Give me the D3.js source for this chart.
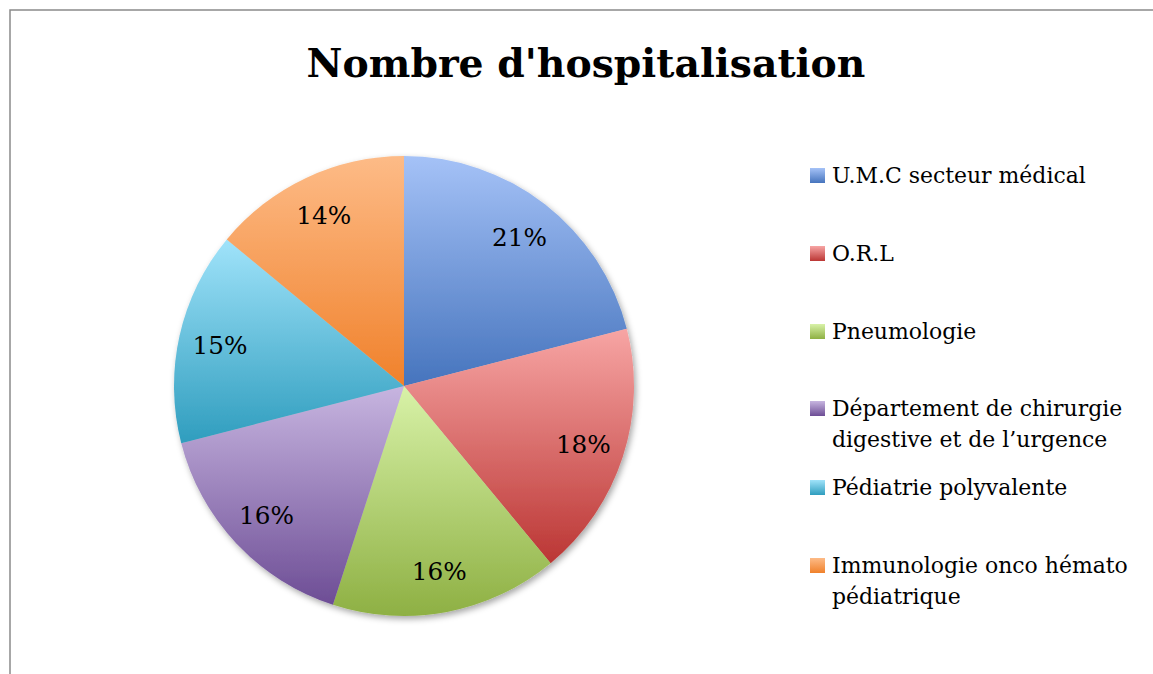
<!DOCTYPE html>
<html>
<head>
<meta charset="utf-8">
<script src="https://cdn.jsdelivr.net/npm/d3@7"></script>
<style>
  body { margin: 0; background: #fff; }
  text { font-family: "DejaVu Serif", "Liberation Serif", serif; fill: #000; }
</style>
</head>
<body>
<div id="chart"></div>
<script>
var svgWidth = 1153;
var svgHeight = 674;

// data
var categories = [
  "U.M.C secteur médical",
  "O.R.L",
  "Pneumologie",
  "Département de chirurgie digestive et de l’urgence",
  "Pédiatrie polyvalente",
  "Immunologie onco hémato pédiatrique"
];
var values = [21, 18, 16, 16, 15, 14];
// legend lines (wrapped as in the original)
var legendLines = [
  ["U.M.C secteur médical"],
  ["O.R.L"],
  ["Pneumologie"],
  ["Département de chirurgie", "digestive et de l’urgence"],
  ["Pédiatrie polyvalente"],
  ["Immunologie onco hémato", "pédiatrique"]
];
var lightColors = ["#a5c2f7", "#f7a5a4", "#d8f2a8", "#c7b5e0", "#a0e3fa", "#fdbb87"];
var darkColors  = ["#4674bd", "#bb3634", "#8eb043", "#6d4d95", "#2f9dbe", "#f0812b"];

var svg = d3.select("#chart")
  .append("svg")
  .attr("width", svgWidth)
  .attr("height", svgHeight);

var defs = svg.append("defs");

// one vertical gradient per slice
categories.forEach(function(c, i) {
  var g = defs.append("linearGradient")
    .attr("id", "grad" + i)
    .attr("x1", 0).attr("y1", 0)
    .attr("x2", 0).attr("y2", 1);
  g.append("stop").attr("offset", "0%").attr("stop-color", lightColors[i]);
  g.append("stop").attr("offset", "100%").attr("stop-color", darkColors[i]);
});

var shadow = defs.append("filter")
  .attr("id", "shadow")
  .attr("x", "-10%").attr("y", "-10%")
  .attr("width", "125%").attr("height", "125%");
shadow.append("feDropShadow")
  .attr("dx", 2).attr("dy", 3)
  .attr("stdDeviation", 3)
  .attr("flood-color", "#000")
  .attr("flood-opacity", 0.35);

// outer frame
svg.append("rect")
  .attr("x", 10).attr("y", 10)
  .attr("width", 1170).attr("height", 720)
  .attr("fill", "none")
  .attr("stroke", "#8a8a8a")
  .attr("stroke-width", 1.5);

// helper: size a text so that it spans the given width
function fitSize(sel, target) {
  var base = parseFloat(sel.attr("font-size"));
  var len = sel.node().getComputedTextLength();
  return base * target / len;
}

// title
var title = svg.append("text")
  .attr("x", 586)
  .attr("y", 77)
  .attr("text-anchor", "middle")
  .attr("font-weight", "bold")
  .attr("font-size", 40)
  .text("Nombre d'hospitalisation");
title.attr("font-size", fitSize(title, 559));

// pie
var cx = 404, cy = 386, radius = 230;

var pie = d3.pie().sort(null).value(d => d);
var arc = d3.arc().innerRadius(0).outerRadius(radius);
var labelArc = d3.arc().innerRadius(radius * 0.82).outerRadius(radius * 0.82);

var pieGroup = svg.append("g")
  .attr("transform", `translate(${cx}, ${cy})`);

var arcs = pie(values);

pieGroup.append("g")
  .attr("filter", "url(#shadow)")
  .selectAll("path")
  .data(arcs)
  .enter()
  .append("path")
  .attr("d", arc)
  .attr("fill", (d, i) => `url(#grad${i})`);

var labels = pieGroup.selectAll(".pct")
  .data(arcs)
  .enter()
  .append("text")
  .attr("class", "pct")
  .attr("transform", d => `translate(${labelArc.centroid(d)})`)
  .attr("text-anchor", "middle")
  .attr("dy", "0.36em")
  .attr("font-size", 20)
  .text(d => d.data + "%");
var pctSize = fitSize(d3.select(labels.nodes()[0]), 55);
labels.attr("font-size", pctSize);

// legend
var legendBase = [183, 261, 339, 416, 495, 573];
var legend = svg.append("g");

var firstText = null;
legendLines.forEach(function(lines, i) {
  legend.append("rect")
    .attr("x", 810)
    .attr("y", legendBase[i] - 15)
    .attr("width", 15)
    .attr("height", 15)
    .attr("fill", `url(#grad${i})`);
  var t = legend.append("text")
    .attr("class", "leg")
    .attr("x", 832)
    .attr("y", legendBase[i])
    .attr("font-size", 20);
  lines.forEach(function(line, j) {
    t.append("tspan")
      .attr("x", 832)
      .attr("y", legendBase[i] + j * 31)
      .text(line);
  });
  if (i === 0) firstText = t;
});
var legSize = fitSize(firstText, 254);
legend.selectAll("text.leg").attr("font-size", legSize);
</script>
</body>
</html>
